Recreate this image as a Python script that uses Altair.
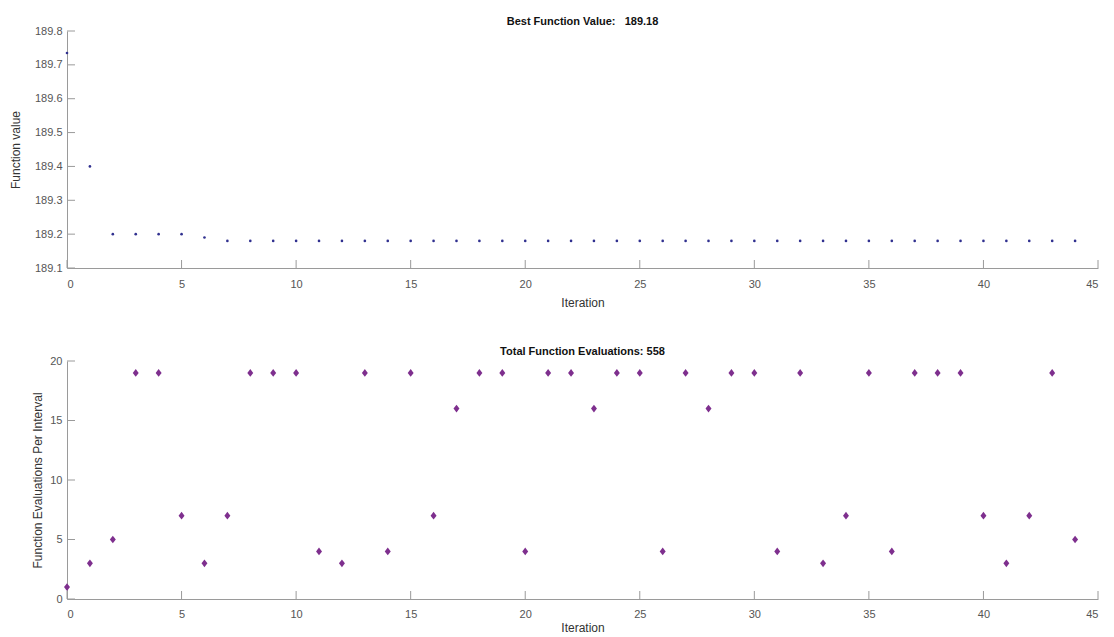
import altair as alt
import pandas as pd

iterations = list(range(45))

best_values = [189.735, 189.40, 189.20, 189.20, 189.20, 189.20, 189.19,
               189.18, 189.18, 189.18, 189.18, 189.18, 189.18, 189.18,
               189.18, 189.18, 189.18, 189.18, 189.18, 189.18, 189.18,
               189.18, 189.18, 189.18, 189.18, 189.18, 189.18, 189.18,
               189.18, 189.18, 189.18, 189.18, 189.18, 189.18, 189.18,
               189.18, 189.18, 189.18, 189.18, 189.18, 189.18, 189.18,
               189.18, 189.18, 189.18]

evals_per_interval = [1, 3, 5, 19, 19, 7, 3, 7, 19, 19, 19, 4, 3, 19, 4,
                      19, 7, 16, 19, 19, 4, 19, 19, 16, 19, 19, 4, 19, 16,
                      19, 19, 4, 19, 3, 7, 19, 4, 19, 19, 19, 7, 3, 7, 19, 5]

x_ticks = [0, 5, 10, 15, 20, 25, 30, 35, 40, 45]
top_y_ticks = [189.1, 189.2, 189.3, 189.4, 189.5, 189.6, 189.7, 189.8]
bot_y_ticks = [0, 5, 10, 15, 20]

top_title = "Best Function Value:\u00a0\u00a0 189.18"
bot_title = "Total Function Evaluations: 558"

FONT = "Liberation Sans"
W = 1031
H_TOP = 237
H_BOT = 238
TICK_LEN = 8
AXIS_GREY = "#9a9a9a"

df_top = pd.DataFrame({"Iteration": iterations, "Value": best_values})
df_bot = pd.DataFrame({"Iteration": iterations, "Evals": evals_per_interval})
df_xt = pd.DataFrame({"Iteration": x_ticks})
df_yt_top = pd.DataFrame({"Value": top_y_ticks})
df_yt_bot = pd.DataFrame({"Evals": bot_y_ticks})

x_scale = alt.Scale(domain=[0, 45], nice=False, zero=False)


def panel(df, yfield, yscale, yaxis, xaxis, point_layer, yt_df, title, h):
    X = alt.X("Iteration:Q", scale=x_scale, axis=xaxis)
    Y = alt.Y(f"{yfield}:Q", scale=yscale, axis=yaxis)
    pts = point_layer.encode(x=X, y=Y)
    xt = alt.Chart(df_xt).mark_rule(color=AXIS_GREY, strokeWidth=1).encode(
        x=X,
        y=alt.value(h),
        y2=alt.value(h - TICK_LEN),
    )
    yt = alt.Chart(yt_df).mark_rule(color=AXIS_GREY, strokeWidth=1).encode(
        y=Y,
        x=alt.value(0),
        x2=alt.value(TICK_LEN),
    )
    return alt.layer(pts, xt, yt).properties(
        width=W, height=h,
        title=alt.TitleParams(title, fontSize=11, fontWeight="bold", font=FONT,
                              color="#111111", offset=-2, anchor="middle",
                              frame="group"),
    )


top_points = alt.Chart(df_top).mark_point(
    shape="circle", filled=True, size=7, color="#30308f", opacity=1
)
top = panel(
    df_top, "Value",
    alt.Scale(domain=[189.1, 189.8], nice=False, zero=False),
    alt.Axis(values=top_y_ticks, format=".1f", title="Function value",
             labelPadding=5, minExtent=59, maxExtent=59,
             titleX=-45, titleY=H_TOP / 2),
    alt.Axis(values=x_ticks, title="Iteration", labelPadding=10,
             titlePadding=8, format="d"),
    top_points, df_yt_top, top_title, H_TOP,
)

bot_points = alt.Chart(df_bot).mark_point(
    shape="M0,-1.1L0.85,0L0,1.1L-0.85,0Z", filled=True, size=49,
    color="#7e2f8e", opacity=1
)
bot = panel(
    df_bot, "Evals",
    alt.Scale(domain=[0, 20], nice=False, zero=False),
    alt.Axis(values=bot_y_ticks, format="d",
             title="Function Evaluations Per Interval",
             labelPadding=5, minExtent=59, maxExtent=59,
             titleX=-23, titleY=H_BOT / 2),
    alt.Axis(values=x_ticks, title="Iteration", labelPadding=9,
             titlePadding=3, format="d"),
    bot_points, df_yt_bot, bot_title, H_BOT,
)

chart = alt.vconcat(top, bot, spacing=38).properties(
    padding={"top": 8, "left": 0, "right": 0, "bottom": 0}
).configure_view(stroke=None).configure_axis(
    grid=False, ticks=False, tickSize=0, domainColor=AXIS_GREY, domainWidth=1,
    labelColor="#555555", labelFont=FONT, labelFontSize=11,
    titleColor="#333333", titleFont=FONT, titleFontSize=12,
    titleFontWeight="normal",
)

chart.save("out.html", embed_options={"renderer": "svg", "actions": False})
